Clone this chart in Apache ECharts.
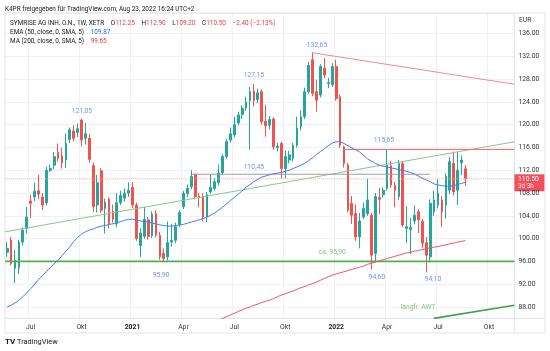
<!DOCTYPE html>
<html>
<head>
<meta charset="utf-8">
<script src="https://cdn.jsdelivr.net/npm/echarts@6/dist/echarts.min.js"></script>
<style>
html, body { margin: 0; padding: 0; background: #fff; }
#chart { width: 550px; height: 351px; }
</style>
</head>
<body>
<div id="chart"></div>
<script>
'use strict';
// weekly candles from 2020-05-25, axis runs a few weeks past the last one
const weekCount = 130;
const quarterMonths = [3, 6, 9];
const quarterNames = ['Apr', 'Jul', 'Okt'];

const opens = [97.6, 99.7, 94.8, 94.9, 99.4, 101.8, 106.6, 107.3, 108.4, 107.3,
  106.3, 112.0, 112.9, 115.1, 114.5, 113.8, 117.4, 118.9, 118.6, 120.8,
  117.6, 117.6, 112.8, 105.9, 111.9, 105.3, 106.9, 104.8, 102.6, 106.3,
  107.1, 108.0, 109.0, 105.9, 98.8, 100.4, 103.3, 100.5, 104.4, 100.6,
  97.4, 96.8, 99.4, 99.7, 102.5, 105.6, 107.9, 109.1, 111.3, 107.5,
  107.4, 103.8, 108.2, 108.8, 109.8, 111.6, 114.4, 117.3, 118.2, 120.3,
  121.8, 122.9, 124.2, 125.9, 124.4, 125.8, 120.6, 119.9, 121.0, 116.0,
  116.7, 112.3, 113.8, 114.1, 116.4, 119.65, 121.4, 125.8, 131.4, 125.8,
  125.2, 129.9, 127.2, 127.0, 130.2, 124.9, 116.1, 112.9, 106.2, 104.4,
  100.3, 103.8, 104.4, 104.1, 97.4, 107.2, 107.7, 108.8, 112.8, 109.4,
  107.4, 113.2, 101.8, 101.6, 103.1, 104.7, 103.0, 99.3, 96.8, 104.7,
  105.9, 106.8, 105.9, 108.5, 113.2, 108.5, 113.3, 112.25];
const closes = [98.3, 95.6, 96.2, 99.4, 101.5, 103.8, 106.2, 108.3, 107.8, 105.9,
  112.0, 112.3, 114.4, 114.1, 113.3, 116.7, 119.1, 117.6, 119.3, 117.3,
  118.4, 113.9, 105.6, 109.8, 105.0, 106.4, 102.6, 103.4, 106.3, 107.6,
  107.9, 108.5, 105.9, 100.0, 101.0, 103.4, 100.4, 104.3, 100.6, 96.8,
  96.5, 99.3, 99.7, 102.1, 104.6, 107.9, 108.8, 110.9, 107.4, 107.3,
  103.8, 107.7, 109.0, 110.0, 111.5, 114.4, 117.0, 118.4, 120.0, 121.7,
  122.9, 124.0, 125.8, 124.2, 125.6, 120.5, 119.8, 120.9, 116.1, 116.2,
  112.3, 114.4, 114.7, 116.4, 119.4, 121.4, 125.8, 130.4, 125.5, 124.3,
  130.2, 128.7, 127.4, 130.2, 124.6, 116.4, 113.2, 105.0, 104.1, 100.3,
  103.1, 105.3, 106.8, 97.1, 107.4, 106.9, 108.5, 112.9, 109.4, 108.5,
  113.2, 102.4, 102.1, 102.0, 104.1, 103.3, 99.2, 97.1, 106.2, 106.8,
  108.0, 104.7, 110.9, 113.5, 108.2, 112.0, 113.8, 110.5];
const lows = [96.8, 95.3, 92.2, 93.8, 98.8, 100.9, 103.6, 106.6, 106.9, 105.0,
  105.8, 111.7, 112.2, 113.5, 112.3, 112.4, 116.8, 117.1, 117.8, 116.2,
  116.5, 113.3, 104.7, 104.6, 104.5, 100.9, 101.8, 102.8, 102.0, 105.9,
  106.5, 107.3, 105.4, 99.6, 96.8, 100.0, 99.8, 100.1, 100.2, 96.3,
  95.9, 96.2, 98.6, 99.2, 102.0, 105.2, 107.3, 108.7, 106.9, 105.5,
  103.0, 102.9, 107.9, 108.4, 109.4, 111.2, 114.0, 116.9, 117.8, 119.9,
  121.0, 122.4, 115.6, 123.2, 123.8, 120.0, 117.9, 119.2, 115.6, 115.3,
  110.45, 110.6, 113.2, 113.6, 116.0, 119.0, 121.0, 125.4, 125.0, 122.3,
  124.8, 128.2, 126.4, 126.6, 124.2, 115.9, 112.5, 104.6, 102.6, 99.6,
  98.3, 103.4, 104.0, 94.6, 95.8, 104.3, 107.2, 108.4, 108.9, 105.5,
  106.8, 102.0, 99.2, 97.3, 102.5, 101.0, 98.4, 94.1, 95.8, 104.0,
  105.3, 102.0, 103.5, 107.8, 107.6, 105.9, 111.2, 109.2];
const highs = [99.4, 100.3, 98.0, 99.8, 102.0, 105.6, 107.7, 109.8, 111.2, 108.0,
  112.6, 113.0, 115.2, 116.7, 116.0, 118.5, 119.5, 119.9, 120.2, 121.05,
  120.3, 118.4, 113.3, 111.2, 112.4, 107.0, 107.2, 106.0, 108.0, 108.4,
  108.8, 109.9, 109.9, 106.3, 101.8, 105.6, 103.8, 104.8, 105.0, 101.2,
  98.3, 103.0, 102.6, 102.8, 105.0, 108.4, 109.5, 112.0, 111.4, 108.0,
  108.0, 108.2, 111.2, 110.6, 113.0, 114.8, 117.5, 119.5, 121.4, 122.3,
  123.4, 124.9, 126.6, 127.15, 126.3, 126.2, 123.5, 121.5, 121.3, 116.8,
  117.0, 115.5, 115.4, 116.8, 121.4, 122.5, 126.5, 131.0, 132.65, 127.9,
  130.6, 131.7, 128.2, 130.8, 131.4, 125.3, 116.3, 113.3, 107.5, 106.0,
  104.5, 106.3, 110.5, 104.5, 108.0, 108.9, 109.0, 115.65, 113.6, 110.0,
  113.8, 113.5, 105.7, 103.6, 105.8, 105.2, 103.5, 100.3, 106.9, 108.4,
  110.4, 107.5, 111.5, 114.3, 115.3, 115.2, 114.6, 112.9];

const ema50 = [88.0, 88.3, 88.7, 89.2, 89.8, 90.5, 91.2, 92.0, 92.8, 93.5,
  94.2, 94.9, 95.6, 96.2, 97.0, 97.8, 98.6, 99.5, 100.2, 100.8,
  101.2, 101.5, 101.7, 102.0, 102.2, 102.3, 102.5, 102.6, 102.8, 103.0,
  103.2, 103.4, 103.4, 103.3, 103.1, 103.0, 102.9, 102.7, 102.6, 102.4,
  102.3, 102.2, 102.2, 102.3, 102.4, 102.5, 102.7, 102.9, 103.1, 103.3,
  103.5, 103.8, 104.1, 104.5, 105.0, 105.5, 106.1, 106.7, 107.2, 107.8,
  108.4, 109.0, 109.5, 110.0, 110.4, 110.8, 111.0, 111.2, 111.4, 111.5,
  111.6, 111.8, 112.0, 112.3, 112.6, 112.9, 113.2, 113.7, 114.2, 114.8,
  115.3, 115.8, 116.3, 116.8, 117.0, 117.0, 116.7, 116.3, 115.9, 115.6,
  115.2, 114.6, 114.0, 113.6, 113.2, 112.9, 112.7, 112.6, 112.4, 112.3,
  112.1, 112.0, 111.8, 111.6, 111.3, 111.0, 110.6, 110.3, 110.0, 109.6,
  109.4, 109.3, 109.2, 109.2, 109.3, 109.5, 109.7, 109.87];
const ma200Start = 54;
const ma200 = [85.7, 86.0, 86.3, 86.6, 86.9, 87.2, 87.5, 87.8, 88.0, 88.3,
  88.5, 88.8, 89.0, 89.2, 89.5, 89.8, 90.1, 90.3, 90.6, 90.8,
  91.1, 91.4, 91.6, 91.9, 92.1, 92.4, 92.7, 93.0, 93.3, 93.6,
  93.8, 94.0, 94.2, 94.4, 94.6, 94.8, 95.0, 95.2, 95.5, 95.7,
  95.9, 96.1, 96.3, 96.5, 96.7, 96.9, 97.1, 97.3, 97.5, 97.6,
  97.8, 97.9, 98.1, 98.2, 98.4, 98.5, 98.6, 98.8, 98.9, 99.1,
  99.2, 99.4, 99.5, 99.65];

// drawings, in [week index, price]
const supportLevel = [[-0.5, 96.0], [129.5, 96.0]];
const risingLine = [[-0.5, 101.2], [129.5, 117.0]];
const fallingLine = [[77.7, 132.65], [129.5, 127.1]];
const resistanceLevel = [[85.9, 115.65], [129.5, 115.65]];
const middleLevel = [[47.2, 111.3], [108.0, 111.3]];
const longTermLine = [[108.9, 86.0], [129.5, 88.3]];
const lastClose = 110.5;

const blueNotes = [
  ['121,05', 19.1, 122.4], ['127,15', 63.0, 128.6], ['132,65', 79.1, 133.9],
  ['110,45', 63.0, 112.6], ['115,65', 96.2, 117.3], ['95,90', 39.3, 93.6],
  ['94,60', 94.4, 93.2], ['94,10', 108.7, 92.9]
];
const greenNotes = [['ca. 95,90', 83.0, 97.55], ['langfr. AWT', 104.9, 88.0]];

const UP = '#26a69a';
const DOWN = '#ef5350';
const FONT = 'Roboto, "Liberation Sans", sans-serif';
const TXT = '#131722';

function buildWeeks() {
    const out = [];
    const start = Date.UTC(2020, 4, 25);
    for (let i = 0; i < weekCount; i++) {
        out.push(new Date(start + i * 7 * 86400000).toISOString().slice(0, 10));
    }
    return out;
}

function isQuarterStart(v) {
    const m = +v.slice(5, 7) - 1;
    const d = +v.slice(8, 10);
    return (m === 0 || quarterMonths.includes(m)) && d <= 7;
}

function quarterLabel(v) {
    const m = +v.slice(5, 7) - 1;
    if (m === 0) return '{y|' + v.slice(0, 4) + '}';
    return quarterNames[quarterMonths.indexOf(m)];
}

function segment(data, color, width, type) {
    return {
        type: 'line', xAxisIndex: 1, yAxisIndex: 0, data: data,
        symbol: 'none', silent: true, animation: false,
        lineStyle: { color: color, width: width, type: type || 'solid' },
    };
}

function notes(list, color) {
    return {
        type: 'scatter', xAxisIndex: 1, yAxisIndex: 0, symbolSize: 0, silent: true,
        animation: false,
        data: list.map(n => ({ name: n[0], value: [n[1], n[2]] })),
        label: {
            show: true, position: 'inside', formatter: p => p.name,
            color: color, fontSize: 6.8, fontFamily: FONT,
        },
    };
}

function init() {
    const weeks = buildWeeks();
    const candles = opens.map((o, i) => [o, closes[i], lows[i], highs[i]]);
    const maFull = new Array(ma200Start).fill(null).concat(ma200);
    const chart = echarts.init(document.getElementById('chart'), null, { renderer: 'canvas' });
    const option = {
        animation: false,
        backgroundColor: '#ffffff',
        textStyle: { fontFamily: FONT },
        grid: { left: 5.2, right: 35.6, top: 13, bottom: 32.6 },
        xAxis: [
            {
                type: 'category', data: weeks, boundaryGap: true,
                axisLine: { show: false }, axisTick: { show: false },
                axisLabel: {
                    interval: (i, v) => isQuarterStart(v), formatter: quarterLabel,
                    fontSize: 6.8, color: '#333', margin: 5, fontFamily: FONT,
                    rich: { y: { fontWeight: 'bold', fontSize: 6.8, color: '#222', fontFamily: FONT } },
                },
                splitLine: {
                    show: true, interval: (i, v) => isQuarterStart(v),
                    lineStyle: { color: '#eff1f5', width: 1 },
                },
            },
            { type: 'value', min: -0.5, max: weekCount - 0.5, show: false },
        ],
        yAxis: {
            type: 'value', position: 'right', min: 86, max: 139.6, interval: 2,
            axisLine: { show: false }, axisTick: { show: false },
            axisLabel: {
                formatter: v => (Math.abs(v % 4) < 1e-6 ? v.toFixed(2) : ''),
                fontSize: 6.8, color: '#333', margin: 4, fontFamily: FONT,
            },
            splitLine: { lineStyle: { color: ['rgba(0,0,0,0)', '#eff1f5'], width: 1 } },
        },
        series: [
            segment(supportLevel, '#4caf50', 1.6),
            segment(risingLine, '#86c98a', 1),
            segment(fallingLine, '#f48a8f', 1),
            segment(resistanceLevel, '#ef6a6a', 1),
            segment(middleLevel, '#9e9e9e', 1),
            segment(longTermLine, '#43a047', 1.6),
            segment([[-0.5, lastClose], [129.5, lastClose]], '#f6a7a7', 1, 'dotted'),
            {
                type: 'candlestick', data: candles, barWidth: 2.2,
                itemStyle: { color: UP, color0: DOWN, borderColor: UP, borderColor0: DOWN, borderWidth: 1 },
            },
            {
                type: 'line', data: ema50, symbol: 'none', silent: true,
                lineStyle: { color: '#4a78f5', width: 1 },
            },
            {
                type: 'line', data: maFull, symbol: 'none', silent: true,
                lineStyle: { color: '#f2555f', width: 1 },
            },
            notes(blueNotes, '#4a78f5'),
            notes(greenNotes, '#5cb860'),
        ],
    };
    chart.setOption(option);

    const tagY = chart.convertToPixel({ yAxisIndex: 0 }, lastClose);
    const frame = '#e0e3eb';
    chart.setOption({
        graphic: [
            { type: 'rect', shape: { x: 5, y: 13, width: 540, height: 320 }, style: { fill: 'none', stroke: frame, lineWidth: 1 }, silent: true },
            { type: 'line', shape: { x1: 514.4, y1: 13, x2: 514.4, y2: 333 }, style: { stroke: frame, lineWidth: 1 }, silent: true },
            { type: 'line', shape: { x1: 5, y1: 318.4, x2: 545, y2: 318.4 }, style: { stroke: frame, lineWidth: 1 }, silent: true },
            { type: 'text', x: 5, y: 9, style: { text: 'K4PR freigegeben für TradingView.com, Aug 23, 2022 16:24 UTC+2', fill: TXT, font: '6.4px ' + FONT, verticalAlign: 'middle' } },
            {
                type: 'text', x: 10, y: 23.3,
                style: {
                    text: '{n|SYMRISE AG INH. O.N., 1W, XETR}  {n|O}{v|112.25}  {n|H}{v|112.90}  {n|L}{v|109.20}  {n|C}{v|110.50}  {v|\u22122.40 (\u22122.13%)}',
                    verticalAlign: 'middle',
                    rich: { n: { fill: TXT, font: '6.4px ' + FONT }, v: { fill: '#f23645', font: '6.4px ' + FONT } },
                },
            },
            {
                type: 'text', x: 10, y: 32.3,
                style: { text: '{n|EMA (50, close, 0, SMA, 5)}  {b|109.87}', verticalAlign: 'middle',
                    rich: { n: { fill: TXT, font: '6.4px ' + FONT }, b: { fill: '#2962ff', font: '6.4px ' + FONT } } },
            },
            {
                type: 'text', x: 10, y: 41,
                style: { text: '{n|MA (200, close, 0, SMA, 5)}  {r|99.65}', verticalAlign: 'middle',
                    rich: { n: { fill: TXT, font: '6.4px ' + FONT }, r: { fill: '#f23645', font: '6.4px ' + FONT } } },
            },
            { type: 'text', x: 519, y: 20, style: { text: 'EUR', fill: '#333', font: '6.8px ' + FONT, verticalAlign: 'middle' } },
            { type: 'rect', shape: { x: 514.4, y: tagY - 4.5, width: 30, height: 17 }, style: { fill: '#f0505a' }, silent: true },
            { type: 'text', x: 518, y: tagY, style: { text: '110.50', fill: '#fff', font: '6.8px ' + FONT, verticalAlign: 'middle' } },
            { type: 'text', x: 518, y: tagY + 7.5, style: { text: '3d 3h', fill: '#fde3e4', font: '6.4px ' + FONT, verticalAlign: 'middle' } },
            { type: 'text', x: 5, y: 342, style: { text: 'TV', fill: TXT, font: 'bold 8px ' + FONT, verticalAlign: 'middle' } },
            { type: 'text', x: 17, y: 342, style: { text: 'TradingView', fill: TXT, font: '7.4px ' + FONT, verticalAlign: 'middle' } },
        ],
    });

    window.addEventListener('resize', () => chart.resize());
}

(function () {
    init();
})();
</script>
</body>
</html>
